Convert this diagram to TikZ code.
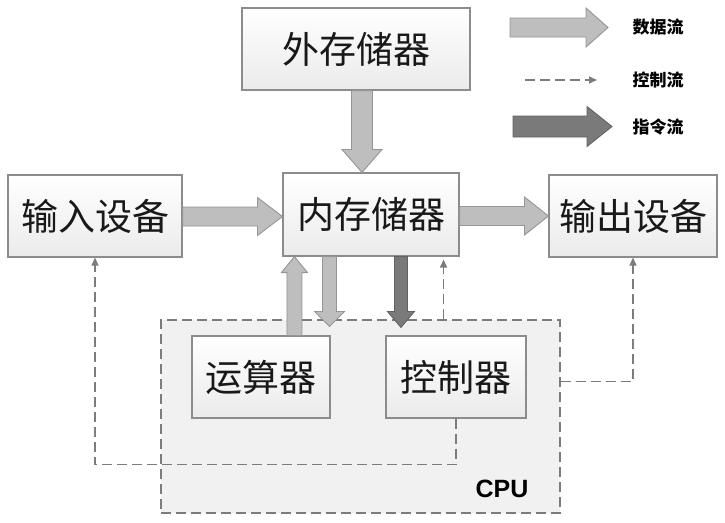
\documentclass[tikz,border=0pt]{standalone}
\usepackage{fontspec}
\setmainfont{Liberation Sans}
\newfontfamily\cjk{Noto Sans CJK SC}
\usetikzlibrary{calc,arrows.meta}
\definecolor{boxline}{HTML}{8C8C8C}
\definecolor{lightfill}{HTML}{BEBEBE}
\definecolor{lightedge}{HTML}{959595}
\definecolor{darkfill}{HTML}{7A7A7A}
\definecolor{darkedge}{HTML}{626262}
\definecolor{ctrlcol}{HTML}{7C7C7C}
\definecolor{cpufill}{HTML}{F1F1F1}
\newcommand\fatarrow[6]{%
  \coordinate (fh) at ($(#3)!#6!(#2)$);
  \draw[#1] ($(#2)!#4!90:(#3)$) -- ($(fh)!#4!90:(#3)$) -- ($(fh)!#5!90:(#3)$) -- (#3)
    -- ($(fh)!#5!-90:(#3)$) -- ($(fh)!#4!-90:(#3)$) -- ($(#2)!#4!-90:(#3)$) -- cycle;}
\begin{document}
\begin{tikzpicture}[x=1pt,y=-1pt,
  unitbox/.style={draw=boxline,line width=1.1pt,top color=white,bottom color=black!8,
    font=\cjk\fontsize{37}{40}\selectfont,text=black!90,inner sep=0pt},
  lightarrow/.style={fill=lightfill,draw=lightedge,line width=0.9pt,line join=miter},
  darkarrow/.style={fill=darkfill,draw=darkedge,line width=0.9pt,line join=miter},
  ctrl/.style={draw=ctrlcol,line width=1.3pt,dash pattern=on 10pt off 5pt,
    -{Triangle[length=8pt,width=7pt]}},
  legendtext/.style={font=\cjk\bfseries\fontsize{17}{20}\selectfont,text=black,inner sep=0pt}]
\useasboundingbox (0,0) rectangle (725,522);
\fill[white] (0,0) rectangle (725,522);
% CPU region
\node[draw=ctrlcol,fill=cpufill,line width=1.3pt,dash pattern=on 10pt off 5pt,
  minimum width=399pt,minimum height=193pt,inner sep=0pt] (cpu) at (360.5,416.5) {};
\node[font=\bfseries\fontsize{25}{28}\selectfont,text=black,inner sep=0pt] (cpulabel) at (502,489) {CPU};
% boxes
\node[unitbox,minimum width=228pt,minimum height=82pt] (wai) at (356,49) {外存储器};
\node[unitbox,minimum width=176pt,minimum height=83pt] (nei) at (371,214.5) {内存储器};
\node[unitbox,minimum width=174pt,minimum height=82pt] (in) at (95,216) {输入设备};
\node[unitbox,minimum width=168pt,minimum height=82pt] (out) at (633,216) {输出设备};
\node[unitbox,minimum width=138pt,minimum height=82pt] (yun) at (261,377) {运算器};
\node[unitbox,minimum width=140pt,minimum height=82pt] (kong) at (456,377) {控制器};
% data / instruction arrows
\coordinate (a1) at ($(wai.south)+(6,0)$);
\coordinate (a2) at (a1 |- nei.north);
\fatarrow{lightarrow}{a1}{a2}{10.5pt}{20pt}{23pt}
\coordinate (b1) at ($(in.east)+(0,0.5)$);
\coordinate (b2) at (b1 -| nei.west);
\fatarrow{lightarrow}{b1}{b2}{9.5pt}{19pt}{25pt}
\coordinate (c1) at ($(nei.east)+(0,1.5)$);
\coordinate (c2) at (c1 -| out.west);
\fatarrow{lightarrow}{c1}{c2}{9.5pt}{19pt}{24pt}
\coordinate (d1) at ($(yun.north west)+(103,0)$);
\coordinate (d2) at (d1 |- nei.south);
\fatarrow{lightarrow}{d1}{d2}{7.5pt}{13pt}{16pt}
\coordinate (e1) at ($(nei.south west)+(47,0)$);
\coordinate (e2) at ($(e1 |- yun.north)+(0,-9)$);
\fatarrow{lightarrow}{e1}{e2}{7pt}{15pt}{15pt}
\coordinate (f1) at ($(nei.south west)+(118.5,0)$);
\coordinate (f2) at ($(f1 |- kong.north)+(0,-8)$);
\fatarrow{darkarrow}{f1}{f2}{6.5pt}{13.5pt}{16pt}
% control flows
\draw[ctrl] (kong.south) -- ++(0,46) -| (in.south);
\draw[ctrl] ($(cpu.east)+(0,-35)$) -| (out.south);
\coordinate (g1) at ($(nei.south east)+(-16,0)$);
\draw[ctrl,shorten >=3pt] (g1 |- cpu.north) -- (g1);
% legend
\node[legendtext] (lg1) at (658,27) {数据流};
\node[legendtext] (lg2) at (658,80) {控制流};
\node[legendtext] (lg3) at (658,127) {指令流};
\coordinate (l1s) at (510,27.5);
\coordinate (l1e) at (608,27.5);
\fatarrow{lightarrow}{l1s}{l1e}{9.5pt}{19.5pt}{22pt}
\coordinate (l2s) at (525,80);
\coordinate (l2e) at (597,80);
\draw[ctrl] (l2s) -- (l2e);
\coordinate (l3s) at (513,126.5);
\coordinate (l3e) at (612,126.5);
\fatarrow{darkarrow}{l3s}{l3e}{10.5pt}{20pt}{25pt}
\end{tikzpicture}
\end{document}
